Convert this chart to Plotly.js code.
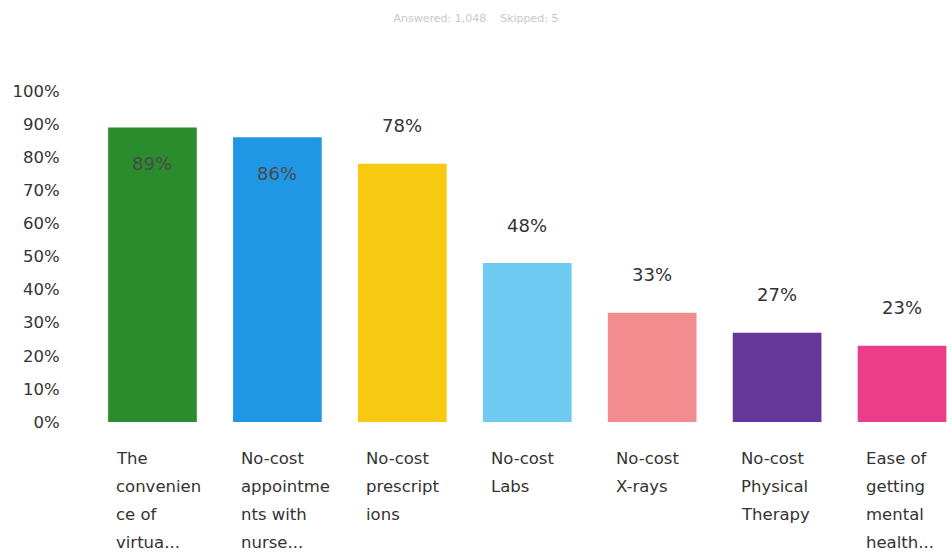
<!DOCTYPE html>
<html>
<head>
<meta charset="utf-8">
<script src="https://cdn.plot.ly/plotly-3.0.1.min.js"></script>
<style>html,body{margin:0;padding:0;background:#fff;}#chart{width:952px;height:554px;}</style>
</head>
<body>
<div id="chart"></div>
<script>
const categories = ["c1","c2","c3","c4","c5","c6","c7"];
const labelLines = [
  ["The","convenien","ce of","virtua..."],
  ["No-cost","appointme","nts with","nurse..."],
  ["No-cost","prescript","ions"],
  ["No-cost","Labs"],
  ["No-cost","X-rays"],
  ["No-cost","Physical","Therapy"],
  ["Ease of","getting","mental","health..."]
];
const values = [89, 86, 78, 48, 33, 27, 23];
const valueLabels = ["89%","86%","78%","48%","33%","27%","23%"];
const barColors = ["#2a8c2c","#1f97e4","#f7c910","#6ecaf0","#f38c8e","#65379a","#ea3f88"];
const yTickVals = [0,10,20,30,40,50,60,70,80,90,100];
const yTickText = ["0%","10%","20%","30%","40%","50%","60%","70%","80%","90%","100%"];
const titleText = "Answered: 1,048    Skipped: 5";

const FONT = "'DejaVu Sans', sans-serif";
const annotations = [];
categories.forEach((c, i) => {
  const inside = values[i] >= 80;
  annotations.push({
    x: c, y: values[i], xref: "x", yref: "y",
    text: valueLabels[i], showarrow: false,
    yshift: inside ? -36 : 38,
    font: {family: FONT, size: 18, color: inside ? "#4a4a4a" : "#333"}
  });
  labelLines[i].forEach((line, k) => {
    annotations.push({
      x: c, y: 0, xref: "x", yref: "y",
      text: line, showarrow: false,
      xanchor: "left", yanchor: "top", align: "left",
      xshift: -38, yshift: -25 - 28 * k,
      font: {family: FONT, size: 16.5, color: "#333"}
    });
  });
});

const trace = {
  type: "bar", x: categories, y: values,
  marker: {color: barColors},
  hoverinfo: "none"
};
const layout = {
  width: 952, height: 554,
  margin: {l: 90, r: 0, t: 91, b: 132},
  paper_bgcolor: "#fff", plot_bgcolor: "#fff",
  showlegend: false,
  bargap: 0.29,
  title: {text: titleText, x: 0.5, y: 0.975, yanchor: "top", font: {family: FONT, size: 11, color: "#c8c8c8"}},
  xaxis: {range: [-0.5, 6.4], showticklabels: false, showgrid: false, zeroline: false, showline: false, fixedrange: true},
  yaxis: {range: [0, 100], tickvals: yTickVals, ticktext: yTickText, showgrid: false, zeroline: false, showline: false,
          ticks: "outside", ticklen: 26, tickcolor: "rgba(0,0,0,0)",
          tickfont: {family: FONT, size: 16.5, color: "#333"}, fixedrange: true},
  annotations: annotations
};
Plotly.newPlot("chart", [trace], layout, {displayModeBar: false, staticPlot: true});
</script>
</body>
</html>
